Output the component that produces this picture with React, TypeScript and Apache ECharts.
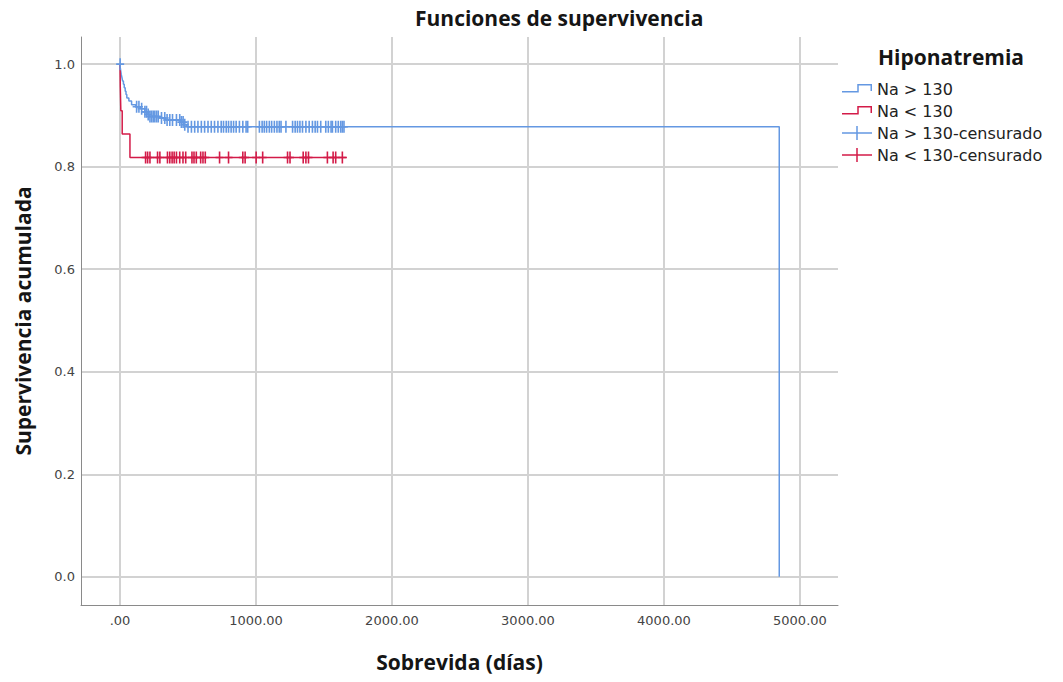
import React, { useEffect, useRef } from 'react';
import * as echarts from 'echarts';

// ---- data ----
const seriesNames = ['Na > 130', 'Na < 130', 'Na > 130-censurado', 'Na < 130-censurado'];

// Kaplan–Meier steps (time in days, cumulative survival)
const blueTimes = [0, 2, 5, 9, 14, 19, 25, 31, 38, 44, 50, 65, 85, 115, 150, 183, 205, 212, 290, 335, 445, 470, 490, 4848];
const blueSurv = [1.0, 0.993, 0.987, 0.98, 0.974, 0.967, 0.961, 0.954, 0.947, 0.941, 0.934, 0.928, 0.921, 0.917, 0.913, 0.907, 0.902, 0.898, 0.895, 0.891, 0.887, 0.882, 0.878, 0];

const redTimes = [0, 2, 6, 16, 73, 1668];
const redSurv = [1.0, 0.955, 0.909, 0.864, 0.818, 0.818];

// censored observations (time in days)
const blueCensorTimes = [
  1, 122, 139, 159, 183, 195, 207, 220, 232, 244, 256, 269, 281, 305, 329, 346, 366, 386, 415, 439, 451, 464, 476,
  500, 525, 549, 573, 598, 622, 647, 671, 695, 720, 744, 761, 781, 798, 817, 835, 854, 878, 903, 927, 939,
  1025, 1045, 1061, 1078, 1098, 1115, 1135, 1154, 1171, 1184, 1220, 1269, 1288, 1305, 1323, 1342, 1367, 1391,
  1415, 1435, 1452, 1476, 1513, 1532, 1552, 1562, 1586, 1605, 1623, 1635, 1647,
];
const redCensorTimes = [
  188, 203, 220, 276, 293, 349, 366, 383, 398, 415, 439, 463, 483, 529, 544, 561, 593, 610, 627, 732, 798,
  903, 920, 1001, 1049, 1232, 1250, 1347, 1367, 1386, 1525, 1567, 1586, 1635,
];

const xTicks = [0, 1000, 2000, 3000, 4000, 5000];
const yTicks = [0, 0.2, 0.4, 0.6, 0.8, 1.0];

const chartTitle = 'Funciones de supervivencia';
const legendTitle = 'Hiponatremia';
const xAxisTitle = 'Sobrevida (días)';
const yAxisTitle = 'Supervivencia acumulada';

// ---- styling ----
const BLUE = '#6498e2';
const RED = '#d31b48';
const TITLE_FONT = "'Open Sans', sans-serif";
const LABEL_FONT = "'DejaVu Sans', sans-serif";

const PLUS_MARK = 'path://M3.2,0H4.8V5.2H8V6.8H4.8V12H3.2V6.8H0V5.2H3.2Z';
const PLUS_ICON = 'path://M14.25,0H15.75V6.25H30V7.75H15.75V14H14.25V7.75H0V6.25H14.25Z';
const STEP_ICON =
  'path://M0,0h0.01v0.01h-0.01ZM29.99,13.99h0.01v0.01h-0.01ZM0,9H15.25V2H30V9H28.5V3.5H16.75V10.5H0Z';

function survivalAt(times: number[], surv: number[], t: number): number {
  let s = surv[0];
  for (let i = 0; i < times.length; i++) {
    if (times[i] <= t) s = surv[i];
    else break;
  }
  return s;
}

export default function App() {
  const ref = useRef<HTMLDivElement>(null);

  useEffect(() => {
    if (!ref.current) return;
    const chart = echarts.init(ref.current, undefined, { renderer: 'svg' });

    const option: any = {
      animation: false,
      backgroundColor: '#ffffff',
      grid: { left: 81, right: 225, top: 37, bottom: 77, containLabel: false, outerBoundsMode: 'none' },
      graphic: [
        {
          type: 'text',
          x: 415,
          y: 18,
          style: {
            text: chartTitle,
            font: `bold 21px ${TITLE_FONT}`,
            fill: '#151515',
            textAlign: 'left',
            textVerticalAlign: 'middle',
          },
        },
        {
          type: 'text',
          x: 878,
          y: 57,
          style: {
            text: legendTitle,
            font: `bold 21px ${TITLE_FONT}`,
            fill: '#151515',
            textAlign: 'left',
            textVerticalAlign: 'middle',
          },
        },
      ],
      legend: {
        orient: 'vertical',
        left: 842,
        top: 81,
        padding: 0,
        itemWidth: 30,
        itemHeight: 14,
        itemGap: 6,
        selectedMode: false,
        textStyle: { fontFamily: LABEL_FONT, fontSize: 16, color: '#222', lineHeight: 14 },
        data: [
          { name: seriesNames[0], icon: STEP_ICON, itemStyle: { color: BLUE, borderWidth: 0 } },
          { name: seriesNames[1], icon: STEP_ICON, itemStyle: { color: RED, borderWidth: 0 } },
          { name: seriesNames[2], icon: PLUS_ICON, itemStyle: { color: BLUE, borderWidth: 0 } },
          { name: seriesNames[3], icon: PLUS_ICON, itemStyle: { color: RED, borderWidth: 0 } },
        ],
      },
      xAxis: {
        type: 'value',
        min: -287,
        max: 5280,
        name: xAxisTitle,
        nameLocation: 'middle',
        nameGap: 46,
        nameTextStyle: { fontFamily: TITLE_FONT, fontWeight: 'bold', fontSize: 21, color: '#151515' },
        axisLine: { show: true, onZero: false, lineStyle: { color: '#8a8a8a', width: 1 } },
        axisTick: { show: false, customValues: xTicks },
        axisLabel: {
          customValues: xTicks,
          margin: 9,
          fontFamily: LABEL_FONT,
          fontSize: 13,
          color: '#444',
          formatter: (v: number) => (v === 0 ? '.00' : v.toFixed(2)),
        },
        splitLine: { show: true, lineStyle: { color: '#d2d2d2', width: 2 } },
      },
      yAxis: {
        type: 'value',
        min: -0.055,
        max: 1.053,
        name: yAxisTitle,
        nameLocation: 'middle',
        nameGap: 48,
        nameTextStyle: { fontFamily: TITLE_FONT, fontWeight: 'bold', fontSize: 21, color: '#151515' },
        axisLine: { show: true, onZero: false, lineStyle: { color: '#8a8a8a', width: 1 } },
        axisTick: { show: false, customValues: yTicks },
        axisLabel: {
          customValues: yTicks,
          margin: 6,
          fontFamily: LABEL_FONT,
          fontSize: 13,
          color: '#444',
          formatter: (v: number) => v.toFixed(1),
        },
        splitLine: { show: true, lineStyle: { color: '#d2d2d2', width: 2 } },
      },
      series: [
        {
          name: seriesNames[0],
          type: 'line',
          step: 'end',
          symbol: 'none',
          showSymbol: false,
          data: blueTimes.map((t, i) => [t, blueSurv[i]]),
          lineStyle: { color: BLUE, width: 1.5 },
          itemStyle: { color: BLUE },
          z: 3,
        },
        {
          name: seriesNames[1],
          type: 'line',
          step: 'end',
          symbol: 'none',
          showSymbol: false,
          data: redTimes.map((t, i) => [t, redSurv[i]]),
          lineStyle: { color: RED, width: 1.5 },
          itemStyle: { color: RED },
          z: 3,
        },
        {
          name: seriesNames[2],
          type: 'scatter',
          symbol: PLUS_MARK,
          symbolSize: [8, 12],
          symbolKeepAspect: false,
          data: blueCensorTimes.map((t) => [t, survivalAt(blueTimes, blueSurv, t)]),
          itemStyle: { color: BLUE, opacity: 1 },
          z: 4,
        },
        {
          name: seriesNames[3],
          type: 'scatter',
          symbol: PLUS_MARK,
          symbolSize: [8, 12],
          symbolKeepAspect: false,
          data: redCensorTimes.map((t) => [t, survivalAt(redTimes, redSurv, t)]),
          itemStyle: { color: RED, opacity: 1 },
          z: 4,
        },
      ],
    };

    chart.setOption(option);
    return () => chart.dispose();
  }, []);

  return (
    <div
      ref={ref}
      style={{ position: 'fixed', left: 0, top: 0, width: 1063, height: 682, background: '#fff' }}
    />
  );
}
